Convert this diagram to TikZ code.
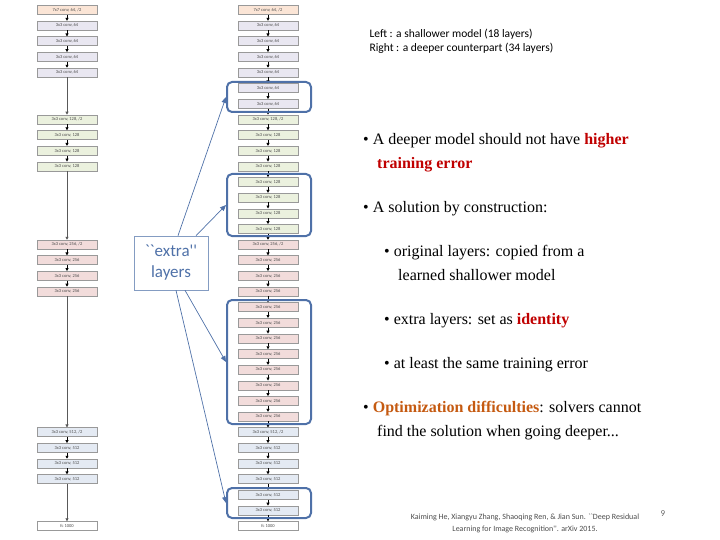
\documentclass[tikz,border=0pt]{standalone}
\usepackage{fontspec}
\setmainfont{Liberation Serif}
\newfontfamily\carl{Carlito}
\usetikzlibrary{arrows.meta}
\definecolor{cA}{HTML}{FBE5D6}
\definecolor{cB}{HTML}{E9E7F1}
\definecolor{cC}{HTML}{EBF1DE}
\definecolor{cD}{HTML}{F2DCDB}
\definecolor{cE}{HTML}{E4EAF3}
\definecolor{bx}{HTML}{4F71A8}
\definecolor{dred}{HTML}{C00000}
\definecolor{ora}{HTML}{C55A11}
\tikzset{
 layer/.style={draw=gray!80,line width=0.6pt,minimum width=60pt,minimum height=9pt,inner sep=0pt,font=\carl\fontsize{4.5}{5}\selectfont,text=black!70},
 sarr/.style={-{Triangle[length=3pt,width=3pt]},line width=0.8pt},
 larr/.style={-{Triangle[length=3pt,width=3pt]},line width=0.8pt,draw=gray!70!black},
 grp/.style={draw=bx,line width=2pt,rounded corners=5pt},
 callout/.style={-{Triangle[length=6pt,width=5pt]},draw=bx,line width=0.7pt},
 bul/.style={anchor=north west,align=left,font=\fontsize{16}{24}\selectfont,inner sep=0pt},
}
\newcommand\rowY[1]{10+15.64*(#1-1)}
\begin{document}
\begin{tikzpicture}[x=1pt,y=-1pt]
\useasboundingbox (0,0) rectangle (720,540);
% right column
\foreach \i/\lbl/\col in {1/{7x7 conv, 64, /2}/cA,2/{3x3 conv, 64}/cB,3/{3x3 conv, 64}/cB,4/{3x3 conv, 64}/cB,5/{3x3 conv, 64}/cB,6/{3x3 conv, 64}/cB,7/{3x3 conv, 64}/cB,
8/{3x3 conv, 128, /2}/cC,9/{3x3 conv, 128}/cC,10/{3x3 conv, 128}/cC,11/{3x3 conv, 128}/cC,12/{3x3 conv, 128}/cC,13/{3x3 conv, 128}/cC,14/{3x3 conv, 128}/cC,15/{3x3 conv, 128}/cC,
16/{3x3 conv, 256, /2}/cD,17/{3x3 conv, 256}/cD,18/{3x3 conv, 256}/cD,19/{3x3 conv, 256}/cD,20/{3x3 conv, 256}/cD,21/{3x3 conv, 256}/cD,22/{3x3 conv, 256}/cD,23/{3x3 conv, 256}/cD,24/{3x3 conv, 256}/cD,25/{3x3 conv, 256}/cD,26/{3x3 conv, 256}/cD,27/{3x3 conv, 256}/cD,
28/{3x3 conv, 512, /2}/cE,29/{3x3 conv, 512}/cE,30/{3x3 conv, 512}/cE,31/{3x3 conv, 512}/cE,32/{3x3 conv, 512}/cE,33/{3x3 conv, 512}/cE,34/{fc 1000}/white}
 {\node[layer,fill=\col] (r\i) at (268,{\rowY{\i}}) {\lbl};}
\foreach \i [evaluate=\i as \j using int(\i+1)] in {1,...,33} {\draw[sarr] (r\i) -- (r\j);}
% left column
\foreach \n/\i/\lbl/\col in {1/1/{7x7 conv, 64, /2}/cA,2/2/{3x3 conv, 64}/cB,3/3/{3x3 conv, 64}/cB,4/4/{3x3 conv, 64}/cB,5/5/{3x3 conv, 64}/cB,
6/8/{3x3 conv, 128, /2}/cC,7/9/{3x3 conv, 128}/cC,8/10/{3x3 conv, 128}/cC,9/11/{3x3 conv, 128}/cC,
10/16/{3x3 conv, 256, /2}/cD,11/17/{3x3 conv, 256}/cD,12/18/{3x3 conv, 256}/cD,13/19/{3x3 conv, 256}/cD,
14/28/{3x3 conv, 512, /2}/cE,15/29/{3x3 conv, 512}/cE,16/30/{3x3 conv, 512}/cE,17/31/{3x3 conv, 512}/cE,18/34/{fc 1000}/white}
 {\node[layer,fill=\col] (l\n) at (67,{\rowY{\i}}) {\lbl};}
\foreach \i [evaluate=\i as \j using int(\i+1)] in {1,2,3,4,6,7,8,10,11,12,14,15,16} {\draw[sarr] (l\i) -- (l\j);}
\foreach \i/\j in {5/6,9/10,13/14,17/18} {\draw[larr] (l\i) -- (l\j);}
% groups
\node[grp,minimum width=84pt,minimum height=30pt] at (269,97) (g1) {};
\node[grp,minimum width=84pt,minimum height=62pt] at (269,205) (g2) {};
\node[grp,minimum width=84pt,minimum height=124pt] at (269,362) (g3) {};
\node[grp,minimum width=84pt,minimum height=30pt] at (269,503) (g4) {};
\node[draw=bx!70,line width=0.6pt,minimum width=74pt,minimum height=54pt,align=center,text=bx,font=\carl\fontsize{17}{21}\selectfont] (ex) at (171,263) {``extra''\\layers};
\draw[callout] (ex.north)++(7,0) coordinate (e1) -- (g1.west);
\draw[callout] (ex.north)++(25,0) coordinate (e2) -- (g2.west);
\draw[callout] (ex.south)++(14,0) coordinate (e3) -- (g3.west);
\draw[callout] (ex.south)++(5,0) coordinate (e4) -- (g4.west);
% text
\node[anchor=west,font=\carl\fontsize{11.5}{14}\selectfont,align=left] (hd) at (366,41) {Left : a shallower model (18 layers)\\Right : a deeper counterpart (34 layers)};
\node[bul] (b1) at (363,133) {\textbullet\ A deeper model should not have \textcolor{dred}{\textbf{higher}}\\\hspace*{14pt}\textcolor{dred}{\textbf{training error}}};
\node[bul] (b2) at (363,201) {\textbullet\ A solution by construction:};
\node[bul] (b3) at (384,245) {\textbullet\ original layers: copied from a\\\hspace*{14pt}learned shallower model};
\node[bul] (b4) at (384,313) {\textbullet\ extra layers: set as \textcolor{dred}{\textbf{identity}}};
\node[bul] (b5) at (384,357) {\textbullet\ at least the same training error};
\node[bul] (b6) at (363,401) {\textbullet\ \textcolor{ora}{\textbf{Optimization difficulties}}: solvers cannot\\\hspace*{14pt}find the solution when going deeper...};
\node[font=\carl\fontsize{8}{12}\selectfont,text=black!70,align=center] (ref) at (525,523) {Kaiming He, Xiangyu Zhang, Shaoqing Ren, \& Jian Sun. ``Deep Residual\\Learning for Image Recognition''. arXiv 2015.};
\node[font=\carl\fontsize{9}{10}\selectfont,text=black!60] (pg) at (663,514) {9};
\end{tikzpicture}
\end{document}
